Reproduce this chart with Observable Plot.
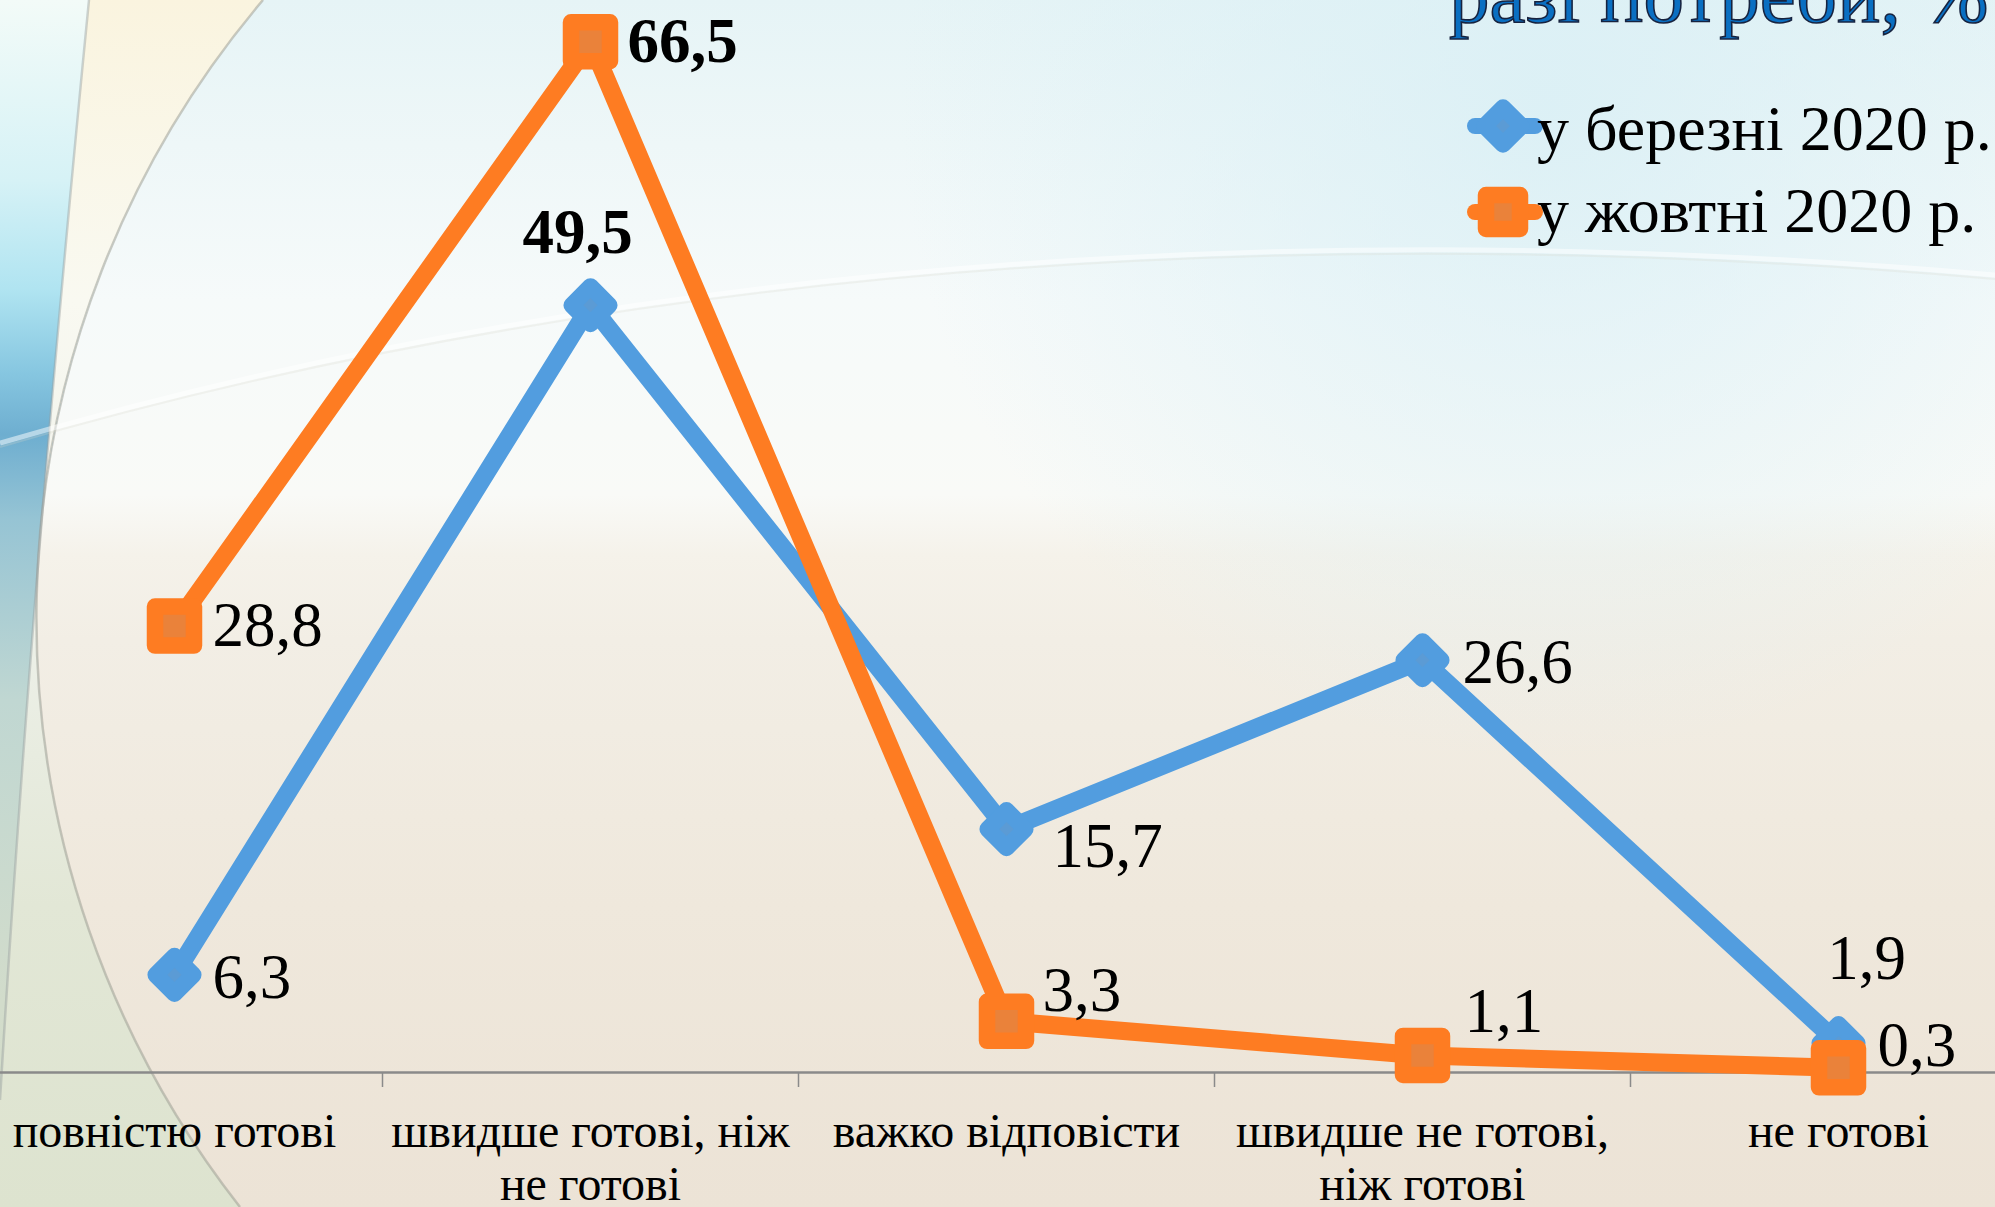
<!DOCTYPE html>
<html>
<head>
<meta charset="utf-8">
<script src="https://cdn.jsdelivr.net/npm/d3@7"></script>
<script src="https://cdn.jsdelivr.net/npm/@observablehq/plot@0.6"></script>
<style>
  html, body { margin: 0; padding: 0; width: 1995px; height: 1207px; overflow: hidden; background: #f4f1ea; }
  #page { position: relative; width: 1995px; height: 1207px; overflow: hidden; }
  #page > svg { position: absolute; left: 0; top: 0; }
  #bg { z-index: 0; }
  #chart { position: absolute; left: 0; top: 0; z-index: 1; }
  #overlay { z-index: 2; }
</style>
</head>
<body>
<div id="page">
  <svg id="bg" width="1995" height="1207" viewBox="0 0 1995 1207">
    <defs>
      <linearGradient id="gIn" x1="0" y1="0" x2="0" y2="1207" gradientUnits="userSpaceOnUse">
        <stop offset="0" stop-color="#e6f4f6"/>
        <stop offset="0.12" stop-color="#eef7f8"/>
        <stop offset="0.25" stop-color="#f6fafa"/>
        <stop offset="0.41" stop-color="#f9faf7"/>
        <stop offset="0.46" stop-color="#f5f2ea"/>
        <stop offset="0.53" stop-color="#f2eee5"/>
        <stop offset="0.75" stop-color="#efe8dc"/>
        <stop offset="1" stop-color="#ece3d6"/>
      </linearGradient>
      <radialGradient id="gTR" cx="1550" cy="110" r="650" gradientUnits="userSpaceOnUse">
        <stop offset="0" stop-color="#d9eff5" stop-opacity="0.85"/>
        <stop offset="1" stop-color="#d9eff5" stop-opacity="0"/>
      </radialGradient>
      <linearGradient id="gOut" x1="0" y1="0" x2="0" y2="1207" gradientUnits="userSpaceOnUse">
        <stop offset="0" stop-color="#f3fbf8"/>
        <stop offset="0.15" stop-color="#d6f2f6"/>
        <stop offset="0.24" stop-color="#b0e4f1"/>
        <stop offset="0.31" stop-color="#86c6e0"/>
        <stop offset="0.36" stop-color="#6eaed0"/>
        <stop offset="0.43" stop-color="#96c4d4"/>
        <stop offset="0.58" stop-color="#c0d7d2"/>
        <stop offset="0.83" stop-color="#d2dccb"/>
        <stop offset="1" stop-color="#d6dec9"/>
      </linearGradient>
      <linearGradient id="gBand" x1="0" y1="0" x2="0" y2="1207" gradientUnits="userSpaceOnUse">
        <stop offset="0" stop-color="#faf4df"/>
        <stop offset="0.25" stop-color="#f9f9f1"/>
        <stop offset="0.5" stop-color="#eef1ea"/>
        <stop offset="0.75" stop-color="#e2e7d6"/>
        <stop offset="1" stop-color="#dde3cf"/>
      </linearGradient>
    </defs>
    <rect width="1995" height="1207" fill="url(#gIn)"/>
    <rect width="1995" height="1207" fill="url(#gTR)"/>
    <path d="M0 0 L263 0 A955 955 0 0 0 240 1207 L0 1207 Z" fill="url(#gOut)"/>
    <path d="M89 0 L263 0 A955 955 0 0 0 240 1207 L0 1207 L0 1100 Q30 600 89 0 Z" fill="url(#gBand)"/>
    <path d="M263 0 A955 955 0 0 0 240 1207" fill="none" stroke="#9a9a90" stroke-opacity="0.5" stroke-width="2.5"/>
    <path d="M89 0 Q30 600 0 1100" fill="none" stroke="#9aa0a0" stroke-opacity="0.45" stroke-width="2.5"/>
    <path d="M0 443 Q900 180 1995 275" fill="none" stroke="#ffffff" stroke-opacity="0.5" stroke-width="5"/>
    <path d="M0 447 Q900 184 1995 279" fill="none" stroke="#d8d6cc" stroke-opacity="0.25" stroke-width="2"/>
  </svg>
  <div id="chart"></div>
  <svg id="overlay" width="1995" height="1207" viewBox="0 0 1995 1207"></svg>
</div>
<script>
// ---------- data ----------
const categories = [
  "повністю готові",
  "швидше готові, ніж\nне готові",
  "важко відповісти",
  "швидше не готові,\nніж готові",
  "не готові"
];
const seriesNames = ["у березні 2020 р.", "у жовтні 2020 р."];
const marchValues = [6.3, 49.5, 15.7, 26.6, 1.9];
const octoberValues = [28.8, 66.5, 3.3, 1.1, 0.3];
const titleText = "разі потреби, %";

// ---------- styling ----------
const FONT = "'Liberation Serif', 'Times New Roman', serif";
const blue = {line: "#529ddf", fill: "#5b9bd5"};
const orange = {line: "#fe7c22", fill: "#ea823a"};

const fmt = v => String(v).replace(".", ",");
const rowsOf = (vals, name) => vals.map((v, i) => ({i, value: v, series: name, label: fmt(v)}));
const marchRows = rowsOf(marchValues, seriesNames[0]);
const octoberRows = rowsOf(octoberValues, seriesNames[1]);

// label placement (offsets in px relative to the point) — presentation only
const marchPlacement = [
  {dx: 38, dy: 3, anchor: "start"},
  {dx: -13, dy: -72, anchor: "middle", bold: true},
  {dx: 46, dy: 18, anchor: "start"},
  {dx: 40, dy: 3, anchor: "start"},
  {dx: 28, dy: -84, anchor: "middle"}
];
const octoberPlacement = [
  {dx: 38, dy: 0, anchor: "start"},
  {dx: 37, dy: 0, anchor: "start", bold: true},
  {dx: 36, dy: -31, anchor: "start"},
  {dx: 42, dy: -44, anchor: "start"},
  {dx: 39, dy: -22, anchor: "start"}
];
const labelMarks = (rows, placement) => rows.map((r, k) => Plot.text([r], {
  x: "i", y: "value", text: "label",
  dx: placement[k].dx, dy: placement[k].dy,
  textAnchor: placement[k].anchor, lineAnchor: "middle",
  fontSize: 63, fontWeight: placement[k].bold ? "bold" : "normal",
  fill: "#000"
}));

const boundaries = d3.range(1, categories.length).map(i => i - 0.5);
const MS = 16.5; // marker stroke

const chart = Plot.plot({
  width: 1995,
  height: 1207,
  marginTop: 0, marginRight: 0, marginBottom: 135, marginLeft: 0,
  style: {background: "transparent", fontFamily: FONT, overflow: "visible"},
  x: {type: "linear", domain: [-0.5, categories.length - 0.5], range: [-34, 2046], axis: null},
  y: {domain: [0, 69.16], range: [1072, 0], axis: null},
  marks: [
    Plot.ruleY([0], {stroke: "#8a8a8a", strokeWidth: 2.5}),
    Plot.axisX({ticks: boundaries, tickSize: 15, tickFormat: () => "", stroke: "#8a8a8a", strokeWidth: 1.5, label: null}),
    Plot.text(categories, {
      x: (d, i) => i, y: () => 0, text: d => d,
      lineAnchor: "top", dy: 36, fontSize: 48, lineHeight: 1.12, fill: "#000"
    }),
    Plot.line(marchRows, {x: "i", y: "value", stroke: blue.line, strokeWidth: 18, strokeLinejoin: "round", strokeLinecap: "round"}),
    Plot.dot(marchRows, {x: "i", y: "value", symbol: "square", rotate: 45, r: 15, fill: blue.fill, stroke: blue.line, strokeWidth: MS, strokeLinejoin: "round"}),
    Plot.line(octoberRows, {x: "i", y: "value", stroke: orange.line, strokeWidth: 18, strokeLinejoin: "round", strokeLinecap: "round"}),
    Plot.dot(octoberRows, {x: "i", y: "value", symbol: "square", r: 22, fill: orange.fill, stroke: orange.line, strokeWidth: MS, strokeLinejoin: "round"}),
    ...labelMarks(marchRows, marchPlacement),
    ...labelMarks(octoberRows, octoberPlacement)
  ]
});
document.getElementById("chart").appendChild(chart);

// ---------- title & legend overlay ----------
const ov = d3.select("#overlay");
ov.append("text")
  .attr("x", 1449).attr("y", 22)
  .attr("font-family", FONT).attr("font-size", 81)
  .attr("fill", "#0a6fc2").attr("stroke", "#17233f").attr("stroke-width", 1.6)
  .attr("paint-order", "fill")
  .text(titleText);

const legendItems = [
  {name: seriesNames[0], col: blue, shape: "diamond"},
  {name: seriesNames[1], col: orange, shape: "square"}
];
legendItems.forEach((it, k) => {
  const cy = 126 + k * 86;
  const g = ov.append("g").attr("transform", `translate(1503,${cy})`);
  g.append("line").attr("x1", -28).attr("x2", 32).attr("y1", 0).attr("y2", 0)
    .attr("stroke", it.col.line).attr("stroke-width", 16).attr("stroke-linecap", "round");
  if (it.shape === "diamond") {
    const h = 18.5;
    g.append("path").attr("d", `M0 ${-h} L${h} 0 L0 ${h} L${-h} 0 Z`)
      .attr("fill", it.col.fill).attr("stroke", it.col.line).attr("stroke-width", MS).attr("stroke-linejoin", "round");
  } else {
    const h = 17;
    g.append("rect").attr("x", -h).attr("y", -h).attr("width", 2 * h).attr("height", 2 * h)
      .attr("fill", it.col.fill).attr("stroke", it.col.line).attr("stroke-width", MS).attr("stroke-linejoin", "round");
  }
  ov.append("text").attr("x", 1537).attr("y", 150 + k * 82)
    .attr("font-family", FONT).attr("font-size", 64).attr("fill", "#000")
    .text(it.name);
});
</script>
</body>
</html>
